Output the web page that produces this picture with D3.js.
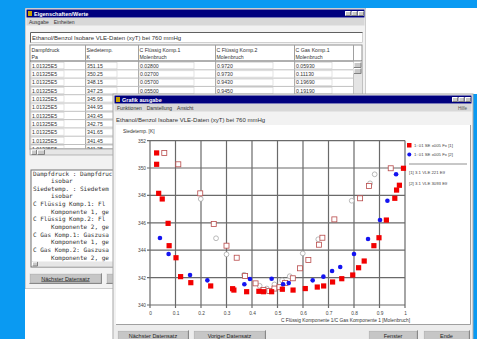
<!DOCTYPE html>
<html><head><meta charset="utf-8">
<script src="https://cdn.jsdelivr.net/npm/d3@7"></script>
<style>html,body{margin:0;padding:0;overflow:hidden;background:#0a9af2}svg{display:block}</style>
</head><body><svg id="c" width="477" height="339"></svg>
<script>
// ---------- data ----------
const chartTitle = "Ethanol/Benzol Isobare VLE-Daten (xyT) bei 760 mmHg";
const xTicks = [0,0.1,0.2,0.3,0.4,0.5,0.6,0.7,0.8,0.9,1];
const yTicks = [340,342,344,346,348,350,352];
// liquid, data set 1  [x1, T]
const liquid1 = [[0.026,351.1],[0.026,350.27],[0.034,348.15],[0.048,347.74],[0.071,345.96],[0.075,344.33],
 [0.102,343.45],[0.120,342.07],[0.160,341.63],[0.238,341.39],[0.324,341.19],[0.329,341.09],[0.379,340.97],
 [0.427,341.0],[0.445,340.97],[0.477,340.97],[0.519,341.15],[0.561,341.09],[0.609,341.2],[0.656,341.31],
 [0.681,341.39],[0.716,341.68],[0.752,341.92],[0.795,342.19],[0.818,342.72],[0.840,343.21],[0.878,344.33],
 [0.898,344.91],[0.927,346.2],[0.960,347.79],[0.967,348.39],[0.978,348.74],[0.994,349.98]];
// liquid, data set 2
const liquid2 = [[0.039,344.89],[0.073,343.72],[0.157,342.19],[0.225,341.8],[0.370,341.51],[0.392,341.9],
 [0.477,341.92],[0.522,341.51],[0.544,341.6],[0.638,341.8],[0.680,342.07],[0.714,342.48],[0.746,342.77],
 [0.800,343.72],[0.855,344.82],[0.902,346.2],[0.931,347.61],[0.965,349.54]];
// vapour, data set 1  [y1, T]
const vapour1 = [[0.056,351.1],[0.111,350.27],[0.197,348.15],[0.250,345.91],[0.300,344.33],[0.340,343.45],
 [0.373,342.12],[0.414,341.58],[0.445,341.1],[0.468,341.02],[0.488,341.2],[0.508,341.3],[0.530,341.6],
 [0.560,341.95],[0.588,342.68],[0.621,343.28],[0.663,344.4],[0.676,344.91],[0.723,346.25],[0.824,347.79],
 [0.859,348.69],[0.944,349.98]];
// vapour, data set 2
const vapour2 = [[0.199,347.74],[0.259,344.87],[0.300,343.7],[0.369,342.21],[0.430,341.4],[0.458,341.2],
 [0.488,341.5],[0.518,341.8],[0.548,342.1],[0.599,343.77],[0.660,344.8],[0.791,347.61],[0.863,348.88],[0.881,349.54]];
const legendSeries = ["1: 01 SE x005 Fx [1]","1: 01 SE x005 Fx [2]"];
const legendSources = ["[1] 3.1 VLE 221 Elf","[2] 3.1 VLE 3093 Elf"];
// table of back window
const tableHeads = [["Dampfdruck","Pa"],["Siedetemp.","K"],["C Flüssig Komp.1","Molenbruch"],["C Flüssig Komp.2","Molenbruch"],["C Gas Komp.1","Molenbruch"]];
const colPressure = ["1.01325E5","1.01325E5","1.01325E5","1.01325E5","1.01325E5","1.01325E5","1.01325E5","1.01325E5","1.01325E5","1.01325E5","1.01325E5"];
const colTemp = ["351.15","350.25","348.15","347.25","345.95","344.95","343.45","342.75","341.65","341.45","341.25"];
const colXl1 = ["0.02800","0.02700","0.05700","0.05500"];
const colXl2 = ["0.9720","0.9730","0.9430","0.9450"];
const colYg1 = ["0.05930","0.11130","0.19690","0.19190"];
const memoLines = ["Dampfdruck : Dampfdruc","     isobar","Siedetemp. : Siedetem","     isobar",
 "C Flüssig Komp.1: Fl","     Komponente 1, ge","C Flüssig Komp.2: Fl","     Komponente 2, ge",
 "C Gas Komp.1: Gaszusa","     Komponente 1, ge","C Gas Komp.2: Gaszusa","     Komponente 2, ge"];

// ---------- drawing ----------
const svg = d3.select("#c");
const F = "Liberation Sans, Arial, sans-serif";

svg.append("rect").attr("x",0).attr("y",0).attr("width",477).attr("height",339).attr("fill","#0a9af2");
svg.append("rect").attr("x",25).attr("y",8).attr("width",452).attr("height",331).attr("fill","#ffffff");
svg.append("rect").attr("x",473).attr("y",94).attr("width",4).attr("height",245).attr("fill","#0a9af2");

function bevel(g,x,y,w,h,raised,fill){
  g.append("rect").attr("x",x).attr("y",y).attr("width",w).attr("height",h).attr("fill",fill||"#d4d0c8");
  const lt = raised?"#ffffff":"#808080", dk = raised?"#808080":"#ffffff";
  g.append("path").attr("d",`M${x+0.5},${y+h-0.5}V${y+0.5}H${x+w-0.5}`).attr("stroke",lt).attr("fill","none");
  g.append("path").attr("d",`M${x+0.5},${y+h-0.5}H${x+w-0.5}V${y+0.5}`).attr("stroke",dk).attr("fill","none");
}
function windowFrame(g,x,y,w,h,title,menus,rightMenu){
  g.append("rect").attr("x",x).attr("y",y).attr("width",w).attr("height",h).attr("fill","#f2f2f2").attr("stroke","#a8a8a8");
  g.append("rect").attr("x",x+1.5).attr("y",y+1.5).attr("width",w-3).attr("height",8).attr("fill","#00007e");
  g.append("rect").attr("x",x+3).attr("y",y+3).attr("width",4).attr("height",5).attr("fill","#c8a000");
  g.append("text").attr("x",x+9).attr("y",y+8).attr("font-family",F).attr("font-size",5.5).attr("font-weight","bold").attr("fill","#ffffff").text(title);
  [0,1,2].forEach(i=>bevel(g,x+w-21+i*6.5,y+3,6,5,true,"#c8c8c8"));
  g.append("rect").attr("x",x+1.5).attr("y",y+10).attr("width",w-3).attr("height",7.5).attr("fill","#d8d8d8");
  let mx = x+4;
  menus.forEach(m=>{
    const t = g.append("text").attr("x",mx).attr("y",y+15.5).attr("font-family",F).attr("font-size",5).attr("fill","#333").text(m);
    mx += t.node().getComputedTextLength()+5;
  });
  if(rightMenu) g.append("text").attr("x",x+w-6).attr("y",y+15.5).attr("text-anchor","end").attr("font-family",F).attr("font-size",4.5).attr("fill","#555").text(rightMenu);
}
function button(g,x,y,w,h,label){
  bevel(g,x,y,w,h,true,"#c6c6c6");
  g.append("rect").attr("x",x+1).attr("y",y+1).attr("width",w-2).attr("height",h-2).attr("fill","none").attr("stroke","#a0a0a0").attr("stroke-width",0.5);
  if(label) g.append("text").attr("x",x+w/2).attr("y",y+h/2+2).attr("text-anchor","middle").attr("font-family",F).attr("font-size",5.5).attr("fill","#222").attr("text-decoration","underline").text(label);
}

// ---- back window ----
const cp = svg.append("clipPath").attr("id","backClip");
cp.append("rect").attr("x",25).attr("y",8).attr("width",341).attr("height",86);
cp.append("rect").attr("x",25).attr("y",94).attr("width",88).attr("height",195);
const back = svg.append("g").attr("clip-path","url(#backClip)");
windowFrame(back,25,8,341,281,"Eigenschaften/Werte",["Ausgabe","Einheiten"]);
// text field
back.append("rect").attr("x",30).attr("y",32).attr("width",333).attr("height",11).attr("fill","#ffffff");
back.append("path").attr("d","M30.5,43V32.5H363").attr("stroke","#606060").attr("fill","none");
back.append("path").attr("d","M30.5,42.5H362.5V32.5").attr("stroke","#d0d0d0").attr("fill","none");
back.append("text").attr("x",32).attr("y",40.2).attr("font-family",F).attr("font-size",6).attr("fill","#333").text(chartTitle);
// table
const colX = [30,85,138,215,294,353,362];
const rowY0 = 61.5, rowH = 8.3;
back.append("rect").attr("x",30).attr("y",45).attr("width",332).attr("height",104).attr("fill","#ffffff").attr("stroke","#909090");
tableHeads.forEach((hd,i)=>{
  back.append("text").attr("x",colX[i]+1.5).attr("y",51.5).attr("font-family",F).attr("font-size",5.2).attr("fill","#333").text(hd[0]);
  back.append("text").attr("x",colX[i]+1.5).attr("y",58.5).attr("font-family",F).attr("font-size",5.2).attr("fill","#333").text(hd[1]);
});
back.append("line").attr("x1",30).attr("x2",362).attr("y1",61).attr("y2",61).attr("stroke","#606060");
colX.slice(1,6).forEach(cx=>back.append("line").attr("x1",cx+0.5).attr("x2",cx+0.5).attr("y1",45).attr("y2",149).attr("stroke","#a0a0a0"));
colPressure.forEach((v,r)=>{
  const y = rowY0 + r*rowH;
  back.append("line").attr("x1",30).attr("x2",353).attr("y1",y+rowH).attr("y2",y+rowH).attr("stroke","#c0c0c0");
  const cols = [v,colTemp[r],colXl1[r],colXl2[r],colYg1[r]];
  cols.forEach((c,i)=>{ if(c!==undefined){
    back.append("rect").attr("x",colX[i]+1).attr("y",y+1).attr("width",colX[i+1]-colX[i]-22).attr("height",rowH-2).attr("fill","none").attr("stroke","#d0d0d0").attr("stroke-width",0.6);
    back.append("text").attr("x",colX[i]+2).attr("y",y+6.3).attr("font-family",F).attr("font-size",5.2).attr("fill","#333").text(c);
  }});
});
back.append("rect").attr("x",353.5).attr("y",61.5).attr("width",8.5).attr("height",88).attr("fill","#e4e4e4");
bevel(back,353.5,62,8,6,true,"#c8c8c8");
bevel(back,353.5,68,8,6,true,"#c8c8c8");
// horizontal scrollbar
back.append("rect").attr("x",30).attr("y",149).attr("width",332).attr("height",6).attr("fill","#e6e6e6").attr("stroke","#909090").attr("stroke-width",0.6);
bevel(back,31,149.5,6,5.5,true,"#c8c8c8");
bevel(back,37,149.5,8,5.5,true,"#c8c8c8");
// memo
back.append("rect").attr("x",31).attr("y",170).attr("width",331).attr("height",97).attr("fill","#ffffff").attr("stroke","#707070");
memoLines.forEach((l,i)=>back.append("text").attr("x",33).attr("y",175.5+i*7.64).attr("font-family","DejaVu Sans Mono, monospace").attr("font-size",6).attr("fill","#333").attr("xml:space","preserve").style("white-space","pre").text(l));
back.append("rect").attr("x",32).attr("y",261.5).attr("width",329).attr("height",5).attr("fill","#e6e6e6");
bevel(back,32,261.5,6,5,true,"#c8c8c8");
button(back,29,273,73,11,"Nächster Datensatz");
button(back,106,273,73,11,null);

// ---- front window ----
const front = svg.append("g");
windowFrame(front,113,94,360,250,"Grafik ausgabe",["Funktionen","Darstellung","Ansicht"],"Hilfe");
front.append("text").attr("x",116).attr("y",122).attr("font-family",F).attr("font-size",6).attr("fill","#333").text(chartTitle);
front.append("rect").attr("x",116).attr("y",125).attr("width",354).attr("height",199).attr("fill","#ffffff");
front.append("path").attr("d","M470.5,125V324.5H116").attr("stroke","#a0a0a0").attr("fill","none");
front.append("text").attr("x",123).attr("y",133).attr("font-family",F).attr("font-size",4.8).attr("fill","#333").text("Siedetemp. [K]");

const x = d3.scaleLinear().domain([0,1]).range([150,405]);
const y = d3.scaleLinear().domain([340,352]).range([305,140.6]);
const grid = front.append("g").attr("stroke","#6a6a6a").attr("stroke-width",1.2);
xTicks.forEach(t=>grid.append("line").attr("x1",x(t)).attr("x2",x(t)).attr("y1",y(352)).attr("y2",y(340)+3));
yTicks.forEach(t=>grid.append("line").attr("x1",x(0)-3).attr("x2",x(1)).attr("y1",y(t)).attr("y2",y(t)));

const xAxis = front.append("g").attr("transform",`translate(0,${y(340)})`)
  .call(d3.axisBottom(x).tickValues(xTicks).tickSize(0).tickPadding(7).tickFormat(d=>String(+d.toFixed(1))));
const yAxis = front.append("g").attr("transform",`translate(${x(0)},0)`)
  .call(d3.axisLeft(y).tickValues(yTicks).tickSize(0).tickPadding(4).tickFormat(d3.format("d")));
[xAxis,yAxis].forEach(a=>{a.select(".domain").remove();a.selectAll("text").attr("font-family",F).attr("font-size",4.8).attr("fill","#444");});

front.append("text").attr("x",410).attr("y",322).attr("text-anchor","end").attr("font-family",F).attr("font-size",4.8).attr("fill","#333")
  .text("C Flüssig Komponente 1/C Gas Komponente 1 [Molenbruch]");

// markers
front.append("g").selectAll("circle").data(vapour2).join("circle")
  .attr("cx",d=>x(d[0])).attr("cy",d=>y(d[1])).attr("r",2.4).attr("fill","#ffffff").attr("stroke","#a8a8a8").attr("stroke-width",0.8);
front.append("g").selectAll("rect").data(vapour1).join("rect")
  .attr("x",d=>x(d[0])-2.5).attr("y",d=>y(d[1])-2.5).attr("width",5).attr("height",5).attr("fill","#ffffff").attr("stroke","#b84a4a").attr("stroke-width",0.8);
front.append("g").selectAll("circle").data(liquid2).join("circle")
  .attr("cx",d=>x(d[0])).attr("cy",d=>y(d[1])).attr("r",2.3).attr("fill","#1414f0");
front.append("g").selectAll("rect").data(liquid1).join("rect")
  .attr("x",d=>x(d[0])-2.6).attr("y",d=>y(d[1])-2.6).attr("width",5.2).attr("height",5.2).attr("fill","#f20000");

// legend
const lg = front.append("g");
lg.append("rect").attr("x",407).attr("y",143).attr("width",4.5).attr("height",4.5).attr("fill","#f20000");
lg.append("circle").attr("cx",409.3).attr("cy",154.5).attr("r",2).attr("fill","#1414f0");
legendSeries.forEach((s,i)=>lg.append("text").attr("x",414).attr("y",147.3+i*9).attr("font-family",F).attr("font-size",4.3).attr("fill","#444").text(s));
lg.append("line").attr("x1",409).attr("x2",467).attr("y1",164).attr("y2",164).attr("stroke","#909090").attr("stroke-width",1);
legendSources.forEach((s,i)=>lg.append("text").attr("x",409).attr("y",174+i*10.5).attr("font-family",F).attr("font-size",4.3).attr("fill","#444").text(s));

front.append("rect").attr("x",114).attr("y",325).attr("width",358).attr("height",14).attr("fill","#ececec");
button(front,117,330,72,12,"Nächster Datensatz");
button(front,193,330,73,12,"Voriger Datensatz");
button(front,368,330,50,12,"Fenster");
button(front,423,330,47,12,"Ende");
</script></body></html>
